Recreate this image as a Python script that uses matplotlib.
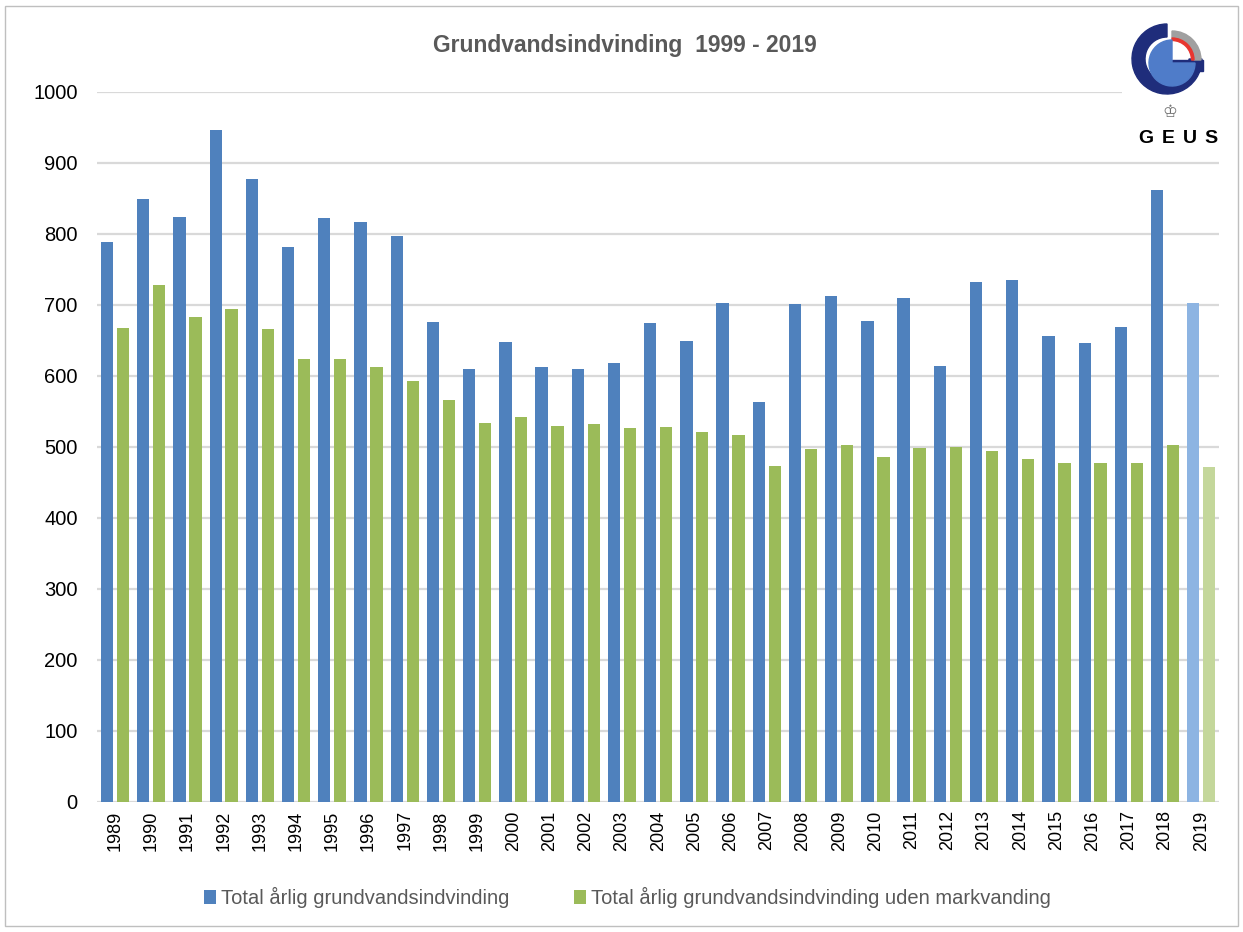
import matplotlib.pyplot as plt
from matplotlib.patches import Wedge, Rectangle
import numpy as np

# Data (mio. m3 per year)
years = [str(y) for y in range(1989, 2020)]
total = [789, 849, 824, 947, 877, 782, 822, 817, 797, 676,
         610, 648, 613, 610, 618, 675, 649, 703, 563, 701,
         713, 677, 710, 614, 732, 735, 656, 646, 669, 862, 703]
uden_mark = [668, 728, 683, 694, 666, 624, 624, 613, 593, 566,
             534, 542, 530, 532, 527, 528, 521, 517, 473, 497,
             503, 486, 499, 500, 494, 483, 477, 477, 477, 503, 472]
yticks = list(range(0, 1001, 100))

legend_labels = ['Total årlig grundvandsindvinding',
                 'Total årlig grundvandsindvinding uden markvanding']

blue = '#4F81BD'
green = '#9BBB59'
blue_light = '#8DB4E2'
green_light = '#C4D79B'

plt.rcParams['font.family'] = ['Liberation Sans', 'DejaVu Sans']

W, H = 1243, 932
fig = plt.figure(figsize=(W / 100, H / 100), dpi=100)
ax = fig.add_axes([0.078, 0.1395, 0.903, 0.7618])

x = np.arange(len(years))
w = 0.34
blue_cols = [blue] * (len(years) - 1) + [blue_light]
green_cols = [green] * (len(years) - 1) + [green_light]
b1 = ax.bar(x - 0.22, total, w, color=blue_cols, zorder=3, label=legend_labels[0])
b2 = ax.bar(x + 0.22, uden_mark, w, color=green_cols, zorder=3, label=legend_labels[1])

ax.set_xlim(-0.5, len(years) - 0.5)
ax.set_ylim(0, 1000)
ax.set_yticks(yticks)
ax.set_yticklabels([str(t) for t in yticks], fontsize=14.5)
ax.set_xticks(x)
ax.set_xticklabels(years, rotation=90, fontsize=13)
ax.tick_params(length=0)
ax.tick_params(axis='x', pad=6)
ax.tick_params(axis='y', pad=14)
ax.yaxis.grid(True, color='#D9D9D9', linewidth=1.6, zorder=0)
ax.set_axisbelow(True)
for s in ax.spines.values():
    s.set_visible(False)

fig.text(0.503, 0.951, 'Grundvandsindvinding  1999 - 2019', ha='center', va='center',
         fontsize=16.5, fontweight='bold', color='#595959')

# Legend at the bottom
fig.legend(handles=[b1, b2], labels=legend_labels, loc='center', bbox_to_anchor=(0.505, 0.037),
           ncol=2, frameon=False, fontsize=14.5, labelcolor='#595959', handlelength=0.6,
           handleheight=0.7, handletextpad=0.25, columnspacing=3.2)

# GEUS logo, drawn in pixel coordinates (y pointing up)
x0, x1, ytop, ybot = 1122, 1230, 10, 160
lax = fig.add_axes([x0 / W, 1 - ybot / H, (x1 - x0) / W, (ybot - ytop) / H])
lax.set_xlim(x0, x1)
lax.set_ylim(H - ybot, H - ytop)
lax.axis('off')
lax.add_patch(Rectangle((x0, H - ybot), x1 - x0 - 12, ybot - ytop, color='white', zorder=0))
cx, cy = 1172, H - 60
lax.add_patch(Wedge((cx - 5, cy + 1), 35, 90, 360, width=13, color='#1F2D7B', zorder=2))
lax.add_patch(Rectangle((cx, cy - 11), 31, 11, color='#1F2D7B', zorder=2))
lax.add_patch(Wedge((cx, cy - 3), 23, 90, 360, color='#4F7CC9', zorder=3))
lax.add_patch(Wedge((cx, cy), 29, 0, 90, width=7, color='#A0A0A0', zorder=2))
lax.add_patch(Wedge((cx, cy), 22, 0, 90, width=2.5, color='#E8362F', zorder=2))
lax.text(1170, H - 112, '♔', ha='center', va='center', fontsize=12, color='#707070',
         family=['DejaVu Sans'])
for lx, letter in zip([1146, 1168, 1190, 1211], 'GEUS'):
    lax.text(lx, H - 138, letter, ha='center', va='center', fontsize=14,
             fontweight='bold', color='black')

# Thin frame around the whole chart
fig.add_artist(Rectangle((0.004, 0.006), 0.992, 0.988, transform=fig.transFigure,
                         fill=False, edgecolor='#BFBFBF', linewidth=1))

plt.savefig('out.png', dpi=100)
